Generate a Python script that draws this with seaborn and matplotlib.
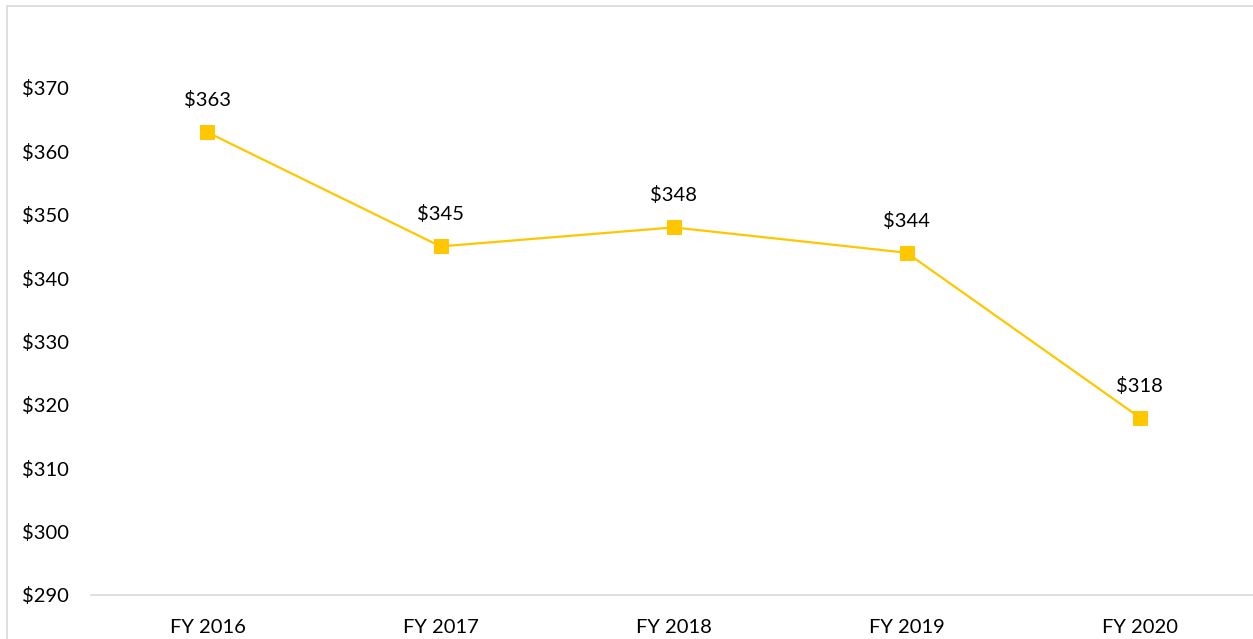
import matplotlib
matplotlib.use("Agg")
import matplotlib.pyplot as plt
import seaborn as sns
import pandas as pd
from matplotlib.lines import Line2D

years = ["FY 2016", "FY 2017", "FY 2018", "FY 2019", "FY 2020"]
values = [363, 345, 348, 344, 318]
yticks = [290, 300, 310, 320, 330, 340, 350, 360, 370]

df = pd.DataFrame({"Year": years, "Value": values})

sns.set_theme(style="white")
plt.rcParams["font.family"] = ["Lato", "DejaVu Sans"]

fig = plt.figure(figsize=(12.53, 6.39), dpi=100)
ax = fig.add_axes([0.0726, 0.0689, 0.93, 0.8926])

gold = "#FFC700"
sns.lineplot(data=df, x="Year", y="Value", ax=ax, color=gold, linewidth=1.6,
             marker="s", markersize=10.5, markeredgecolor=gold, sort=False)

for i, v in enumerate(values):
    ax.annotate(f"${v}", (i, v), xytext=(0, 23), textcoords="offset points",
                ha="center", va="center", fontsize=14.5, color="#000000")

ax.set_xlim(-0.5, 4.5)
ax.set_ylim(290, 380)
ax.set_yticks(yticks)
ax.set_yticklabels([f"${t}" for t in yticks])
ax.set_xlabel("")
ax.set_ylabel("")
ax.tick_params(axis="y", length=0, pad=16, labelsize=14.5, labelcolor="#000000")
ax.tick_params(axis="x", length=0, pad=17, labelsize=14.5, labelcolor="#000000")

for side in ["top", "right", "left"]:
    ax.spines[side].set_visible(False)
ax.spines["bottom"].set_color("#D9D9D9")
ax.spines["bottom"].set_linewidth(1.2)

# chart frame (left and top edges visible)
fig.add_artist(Line2D([7 / 1253, 7 / 1253], [0, 1 - 6 / 639], transform=fig.transFigure,
                      color="#D9D9D9", linewidth=1.2))
fig.add_artist(Line2D([7 / 1253, 1], [1 - 6 / 639, 1 - 6 / 639], transform=fig.transFigure,
                      color="#D9D9D9", linewidth=1.2))

fig.savefig("out.png", dpi=100)
